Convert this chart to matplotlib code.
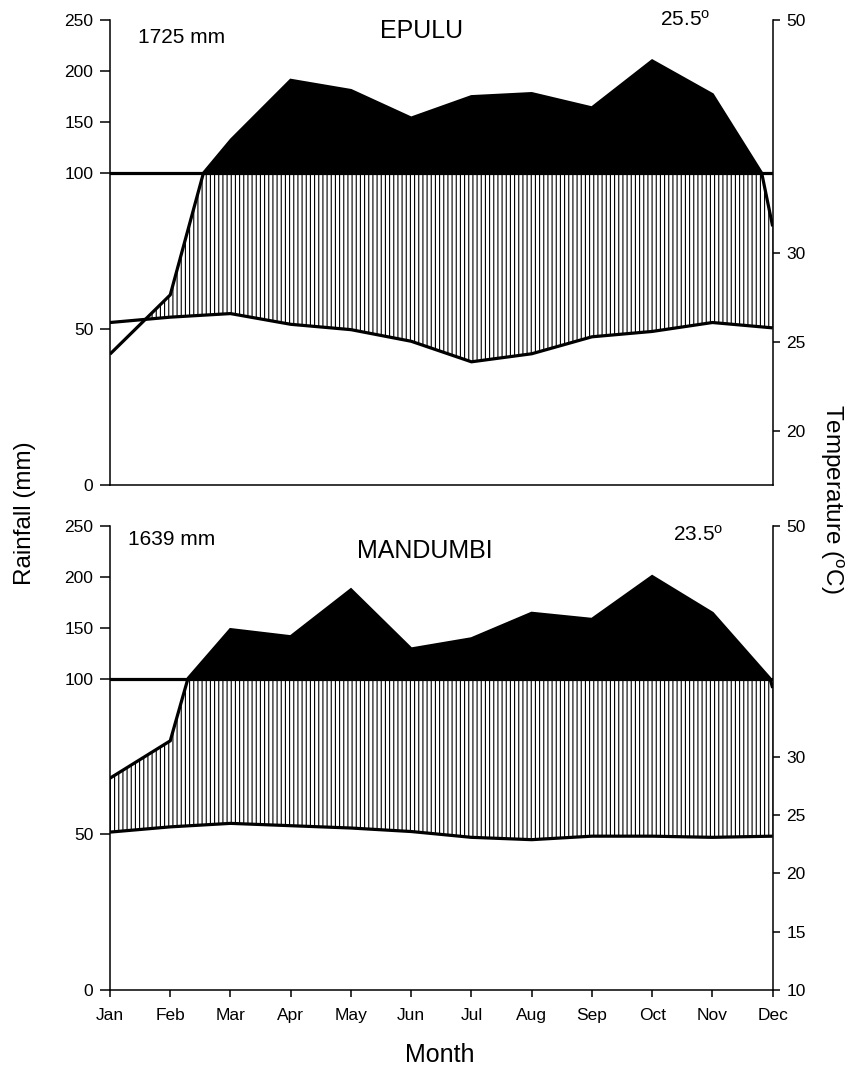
import numpy as np
import matplotlib
matplotlib.use('Agg')
import matplotlib.pyplot as plt
from matplotlib.path import Path
from matplotlib.patches import PathPatch

plt.rcParams['font.family'] = ['Liberation Sans', 'DejaVu Sans']
plt.rcParams['mathtext.fontset'] = 'custom'
plt.rcParams['mathtext.rm'] = 'Liberation Sans'
plt.rcParams['mathtext.it'] = 'Liberation Sans:italic'
plt.rcParams['hatch.linewidth'] = 0.8

# ---------------- data ----------------
months = ['Jan', 'Feb', 'Mar', 'Apr', 'May', 'Jun', 'Jul', 'Aug', 'Sep', 'Oct', 'Nov', 'Dec']
stations = ['EPULU', 'MANDUMBI']
annual_rain = ['1725 mm', '1639 mm']
mean_temp = ['25.5', '23.5']

epulu_rain = [42, 61, 132, 191, 181, 154, 175, 178, 164, 210, 177, 83]
epulu_temp = [26.1, 26.4, 26.6, 26.0, 25.7, 25.05, 23.9, 24.35, 25.3, 25.6, 26.1, 25.8]
mandumbi_rain = [68, 80, 148, 141, 187, 129, 139, 164, 158, 200, 164, 97]
mandumbi_temp = [23.55, 24.0, 24.3, 24.1, 23.9, 23.6, 23.1, 22.9, 23.2, 23.2, 23.1, 23.2]

rain_ticks = [0, 50, 100, 150, 200, 250]
temp_ticks = [[20, 25, 30, 50], [10, 15, 20, 25, 30, 50]]
temp_bottom = [17, 10]
temp_top = 50
# scale parameters (axis geometry)
RAIN_BREAK = 100
RAIN_COMP = 3.05
TEMP_UNITS = [5.73, 3.74]   # rainfall-axis units per degree C below the break


def rain_fwd(r):
    r = np.asarray(r, dtype=float)
    return np.where(r <= RAIN_BREAK, r, RAIN_BREAK + (r - RAIN_BREAK) / RAIN_COMP)


def rain_inv(u):
    u = np.asarray(u, dtype=float)
    return np.where(u <= RAIN_BREAK, u, RAIN_BREAK + (u - RAIN_BREAK) * RAIN_COMP)


U_TOP = float(rain_fwd(250))


def make_temp_scale(lo, k):
    tb = lo + RAIN_BREAK / k
    k2 = (U_TOP - RAIN_BREAK) / (temp_top - tb)

    def fwd(t):
        t = np.asarray(t, dtype=float)
        return np.where(t <= tb, (t - lo) * k, RAIN_BREAK + (t - tb) * k2)

    def inv(u):
        u = np.asarray(u, dtype=float)
        return np.where(u <= RAIN_BREAK, lo + u / k, tb + (u - RAIN_BREAK) / k2)
    return fwd, inv


fig = plt.figure(figsize=(8.5, 10.71), dpi=100)
positions = [[0.1294, 0.5471, 0.7796, 0.4342], [0.1294, 0.0758, 0.7796, 0.4335]]
rains = [epulu_rain, mandumbi_rain]
temps = [epulu_temp, mandumbi_temp]
name_pos = [(0.47, 0.976), (0.475, 0.945)]
ann_pos = [(0.042, 0.963), (0.027, 0.969)]
mean_pos = [(0.868, 1.0), (0.887, 0.98)]

x = np.arange(len(months), dtype=float)
LW = 2.3

for i in range(2):
    rain = np.asarray(rains[i], dtype=float)
    temp = np.asarray(temps[i], dtype=float)

    ax = fig.add_axes(positions[i])
    ax.set_yscale('function', functions=(rain_fwd, rain_inv))
    ax.set_ylim(0, 250)
    ax.set_xlim(0, 11)

    ax2 = ax.twinx()
    tf, ti = make_temp_scale(temp_bottom[i], TEMP_UNITS[i])
    ax2.set_yscale('function', functions=(tf, ti))
    ax2.set_ylim(temp_bottom[i], temp_top)

    # temperature expressed in rainfall-axis data units via the library transforms
    pts = ax2.transData.transform(np.column_stack([x, temp]))
    temp_r = ax.transData.inverted().transform(pts)[:, 1]

    # hatched humid region (between temperature and rainfall)
    h = ax.fill_between(x, temp_r, rain, where=rain >= temp_r, interpolate=True,
                        facecolor='none', edgecolor='black', hatch='||||',
                        linewidth=0, zorder=1)
    h.set_verts([p.interpolated(80).vertices for p in h.get_paths()])

    # black region above 100 mm
    b = ax.fill_between(x, RAIN_BREAK, rain, where=rain >= RAIN_BREAK, interpolate=True,
                        facecolor='black', edgecolor='black', linewidth=0.5, zorder=2)
    b.set_verts([p.interpolated(80).vertices for p in b.get_paths()])

    ax.axhline(RAIN_BREAK, color='black', lw=LW, zorder=3)

    rain_path = Path(np.column_stack([x, rain])).interpolated(80)
    ax.add_patch(PathPatch(rain_path, fill=False, edgecolor='black', lw=LW,
                           transform=ax.transData, zorder=4, capstyle='butt',
                           joinstyle='miter'))

    ax2.plot(x, temp, color='black', lw=LW, zorder=4, solid_capstyle='butt')

    # spines / ticks
    ax.spines['top'].set_visible(False)
    ax.spines['right'].set_visible(False)
    for s in ['top', 'left', 'bottom']:
        ax2.spines[s].set_visible(False)
    for s in ['left', 'bottom']:
        ax.spines[s].set_linewidth(1.1)
    ax2.spines['right'].set_linewidth(1.1)

    ax.set_yticks(rain_ticks)
    ax.tick_params(axis='y', direction='out', length=7, width=1.1, pad=5, labelsize=12.5)
    ax2.set_yticks(temp_ticks[i])
    ax2.tick_params(axis='y', direction='out', length=5, width=1.1, pad=5, labelsize=12.5)
    if i == 0:
        ax.set_xticks([])
    else:
        ax.set_xticks(x)
        ax.set_xticklabels(months)
        ax.tick_params(axis='x', direction='out', length=5, width=1.1, pad=8, labelsize=12.5)

    ax.text(name_pos[i][0], name_pos[i][1], stations[i], transform=ax.transAxes,
            ha='center', va='center', fontsize=18)
    ax.text(ann_pos[i][0], ann_pos[i][1], annual_rain[i], transform=ax.transAxes,
            ha='left', va='center', fontsize=15)
    ax.text(mean_pos[i][0], mean_pos[i][1], mean_temp[i] + r'$^{\mathrm{o}}$',
            transform=ax.transAxes, ha='center', va='center', fontsize=15)

fig.text(25 / 850, 1 - 513 / 1071, 'Rainfall (mm)', rotation=90, ha='center', va='center',
         fontsize=17.5)
fig.text(832 / 850, 1 - 499 / 1071, r'Temperature ($^{\mathrm{o}}$C)', rotation=270,
         ha='center', va='center', fontsize=17.5)
fig.text(440 / 850, 1 - 1055 / 1071, 'Month', ha='center', va='center', fontsize=18)

fig.savefig('out.png', dpi=100)
